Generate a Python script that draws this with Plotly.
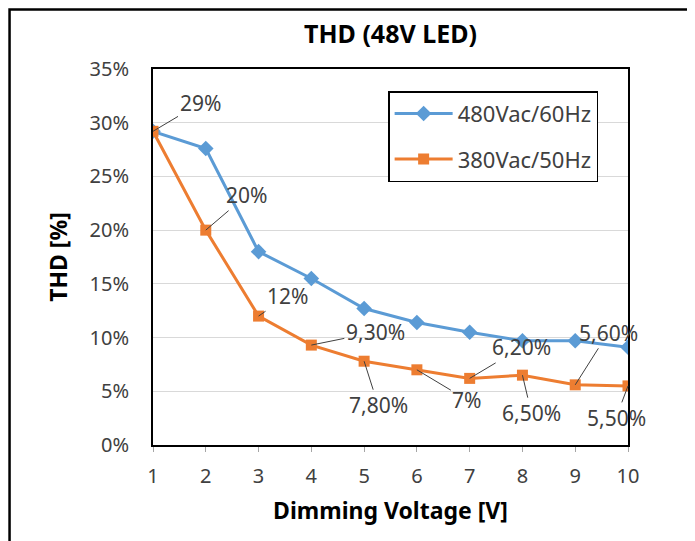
import plotly.graph_objs as go

# data
dimming_v = [1, 2, 3, 4, 5, 6, 7, 8, 9, 10]
thd_480 = [0.292, 0.276, 0.180, 0.155, 0.127, 0.114, 0.105, 0.097, 0.097, 0.091]
thd_380 = [0.292, 0.20, 0.12, 0.093, 0.078, 0.07, 0.062, 0.065, 0.056, 0.055]
labels_380 = ['29%', '20%', '12%', '9,30%', '7,80%', '7%', '6,20%', '6,50%', '5,60%', '5,50%']

# pixel offsets of each data label from its point
label_dx = [47, 41, 29, 64, 14, 50, 52, 9, 33, -12]
label_dy = [-28, -35, -20, -13, 44, 30, -31, 38, -52, 32]

FONT = 'Noto Sans'
BLUE = '#5B9BD5'
ORANGE = '#ED7D31'

fig = go.Figure()
fig.add_trace(go.Scatter(x=dimming_v, y=thd_480, mode='lines+markers', name='480Vac/60Hz',
                         legendgroup='a',
                         line=dict(color=BLUE, width=3),
                         marker=dict(symbol='diamond', size=12, color=BLUE)))
fig.add_trace(go.Scatter(x=dimming_v, y=thd_380, mode='lines+markers', name='380Vac/50Hz',
                         legendgroup='b',
                         line=dict(color=ORANGE, width=3),
                         marker=dict(symbol='square', size=11, color=ORANGE)))

for xv, yv, txt, dx, dy in zip(dimming_v, thd_380, labels_380, label_dx, label_dy):
    fig.add_annotation(x=xv, y=yv, text=txt, showarrow=True, arrowhead=0,
                       arrowwidth=1, arrowcolor='#404040', ax=dx, ay=dy,
                       standoff=0, font=dict(family=FONT, size=21, color='#404040'))

# outer chart border
fig.add_shape(type='rect', xref='paper', yref='paper', x0=-0.302, x1=1.128, y0=-0.4, y1=1.158,
              line=dict(color='black', width=2.5), layer='below')

# page body adds 8px, so the figure is 8px smaller than the window
fig.update_layout(
    width=687, height=533,
    margin=dict(l=145, r=67, t=61, b=96),
    paper_bgcolor='white', plot_bgcolor='white',
    font=dict(family=FONT, size=20, color='#404040'),
    title=dict(text='<b>THD (48V LED)</b>', x=0.5, xref='paper', xanchor='center',
               y=0.951, yref='container', yanchor='middle',
               font=dict(family=FONT, size=25, color='black')),
    legend=dict(x=0.495, y=0.941, xanchor='left', yanchor='top',
                bordercolor='black', borderwidth=1.5, bgcolor='white',
                font=dict(family=FONT, size=22, color='#404040'),
                tracegroupgap=14, itemwidth=58),
    showlegend=True,
)
fig.update_xaxes(range=[1, 10], dtick=1, tick0=1, showgrid=False,
                 showline=True, linecolor='black', linewidth=2, mirror=True,
                 ticks='outside', ticklen=5, tickcolor='#a6a6a6', ticklabelstandoff=7,
                 title=dict(text='<b>Dimming Voltage [V]</b>', standoff=15,
                            font=dict(family=FONT, size=23, color='black')))
fig.update_yaxes(range=[0, 0.35], dtick=0.05, tickformat='.0%', showgrid=True,
                 gridcolor='#d9d9d9', gridwidth=1,
                 showline=True, linecolor='black', linewidth=2, mirror=True,
                 ticks='', ticklabelstandoff=18, zeroline=False,
                 title=dict(text='<b>THD [%]</b>', standoff=15,
                            font=dict(family=FONT, size=23, color='black')))

fig.write_html('out.html')
